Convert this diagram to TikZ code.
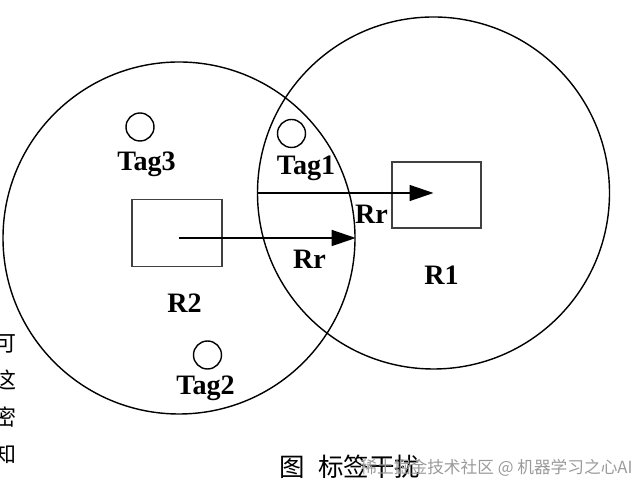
\documentclass[tikz,border=0pt]{standalone}
\usepackage{xcolor}
\usepackage{fontspec}
\setmainfont{Liberation Serif}
\newfontfamily\cjk{Noto Sans CJK SC}
\usepackage{tikz}
\usetikzlibrary{arrows.meta,positioning,calc}
\definecolor{Mark}{HTML}{9A9A9A}

\begin{document}
\begin{tikzpicture}[
  zone/.style={draw,circle,line width=0.8pt,minimum size=7.04cm,inner sep=0pt},
  reader/.style={draw=black!75,line width=1pt,minimum width=1.8cm,minimum height=1.34cm,inner sep=0pt},
  tagdot/.style={draw,circle,line width=0.8pt,minimum size=0.56cm,inner sep=0pt},
  lbl/.style={font=\fontsize{16}{18}\selectfont\bfseries,inner sep=0pt},
  radius/.style={line width=0.8pt,-{Triangle[length=0.48cm,width=0.32cm]}}]
\useasboundingbox (0,0) rectangle (12.7,9.82);
\clip (0,0) rectangle (12.7,9.82);
% reading zones
\node[zone] (C2) at (3.58,5.06) {};
\node[zone] (C1) at (8.67,5.96) {};
% readers
\node[reader] (R2) at (3.54,5.16) {};
\node[reader,minimum width=1.78cm,minimum height=1.32cm] (R1) at (8.73,5.92) {};
\node[lbl] (R2lbl) at (3.69,3.76) {R2};
\node[lbl] (R1lbl) at (8.83,4.32) {R1};
% radii
\draw[radius] (C2.center) -- (C2.east);
\draw[radius] (C1.west) -- (C1.center);
\node[lbl] (rr2) at (6.19,4.64) {Rr};
\node[lbl] (rr1) at (7.43,5.54) {Rr};
% tags
\node[tagdot] (T1) at (5.83,7.15) {};
\node[tagdot] (T2) at (4.15,2.72) {};
\node[tagdot] (T3) at (2.80,7.28) {};
\node[lbl] (T1lbl) at (6.12,6.45) {Tag1};
\node[lbl] (T2lbl) at (4.11,2.05) {Tag2};
\node[lbl] (T3lbl) at (2.93,6.54) {Tag3};
% caption
\node[font=\cjk\fontsize{14.5}{16}\selectfont,inner sep=0pt] (cap) at (7.0,0.48) {图\hspace{0.5em}标签干扰};
\node[font=\cjk\fontsize{9.5}{11}\selectfont,text=Mark,inner sep=0pt] (wm) at (9.93,0.47) {稀土掘金技术社区 @ 机器学习之心AI};
% cut text at the left edge
\node[font=\cjk\fontsize{12.5}{21}\selectfont,inner sep=0pt,align=center] (side) at (0.1,1.83)
  {可\\这\\密\\知};
\end{tikzpicture}
\end{document}
